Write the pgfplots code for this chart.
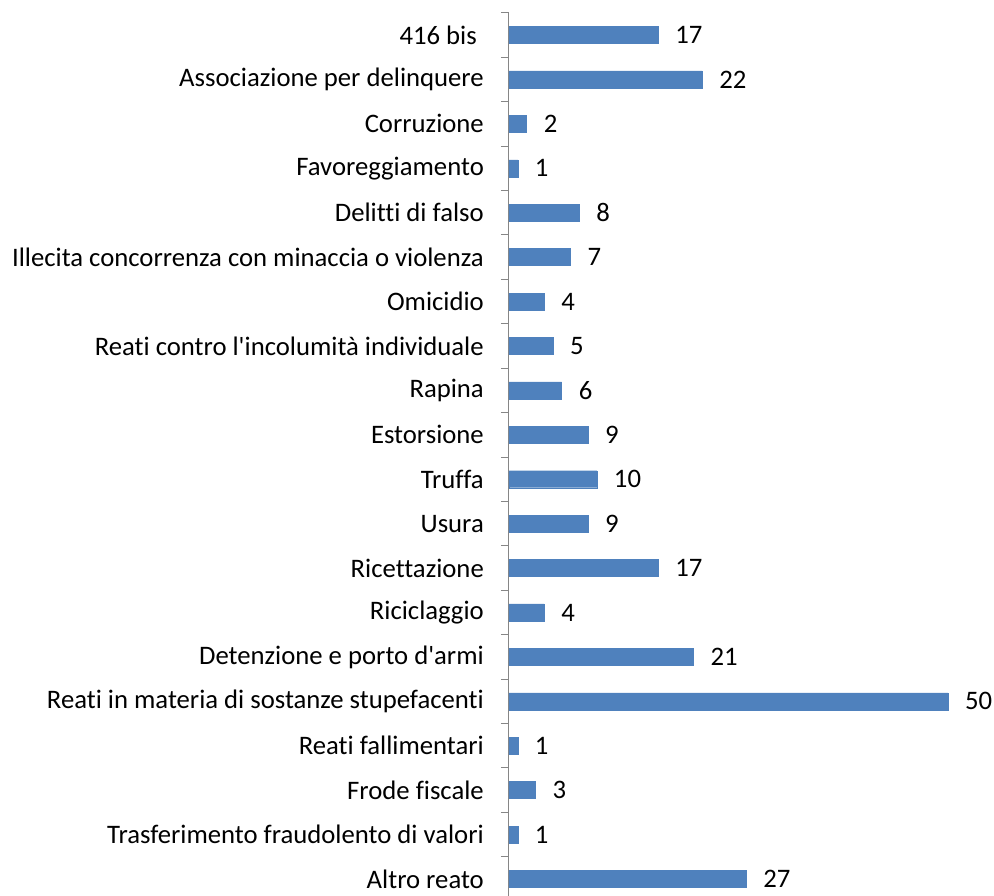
\documentclass[border=0pt]{standalone}
\usepackage{pgfplots}
\pgfplotsset{compat=1.18}
\usepackage{fontspec}
\setmainfont{Carlito}[Ligatures={TeXOff,CommonOff}]
\definecolor{barblue}{HTML}{4F81BD}
\definecolor{axgray}{HTML}{868686}
\begin{document}
\fontsize{26.7}{31}\selectfont
\begin{tikzpicture}
\useasboundingbox (0,0) rectangle (994pt,-895pt);
\begin{axis}[
  at={(509pt,-12.8pt)}, anchor=north west,
  scale only axis, width=482.9pt, height=888.4pt,
  xbar, bar width=17pt,
  xmin=0, xmax=55, ymin=-0.5, ymax=19.5,
  y dir=reverse,
  axis x line=none,
  axis y line*=left,
  y axis line style={axgray, line width=1pt},
  ytick={0,...,19},
  yticklabels={416 bis\rule{7pt}{0pt},Associazione per delinquere,Corruzione,Favoreggiamento,Delitti di falso,Illecita concorrenza con minaccia o violenza,Omicidio,Reati contro l'incolumità individuale,Rapina,Estorsione,Truffa,Usura,Ricettazione,Riciclaggio,Detenzione e porto d'armi,Reati in materia di sostanze stupefacenti,Reati fallimentari,Frode fiscale,Trasferimento fraudolento di valori,Altro reato},
  major tick length=0pt,
  minor ytick={-0.5,0.5,...,19.5},
  minor tick length=8pt,
  tick align=outside,
  minor tick style={axgray, line width=1pt},
  yticklabel style={font=\fontsize{26.7}{31}\selectfont, inner sep=0pt, xshift=-25pt, anchor=east},
  /pgf/number format/assume math mode=true,
  nodes near coords,
  nodes near coords style={font=\fontsize{26.7}{31}\selectfont, anchor=west, inner sep=0pt, xshift=17pt},
  clip=false,
]
\addplot[fill=barblue, draw=barblue] coordinates {
(17,0) (22,1) (2,2) (1,3) (8,4) (7,5) (4,6) (5,7) (6,8) (9,9)
(10,10) (9,11) (17,12) (4,13) (21,14) (50,15) (1,16) (3,17) (1,18) (27,19)
};
\end{axis}
\end{tikzpicture}
\end{document}
